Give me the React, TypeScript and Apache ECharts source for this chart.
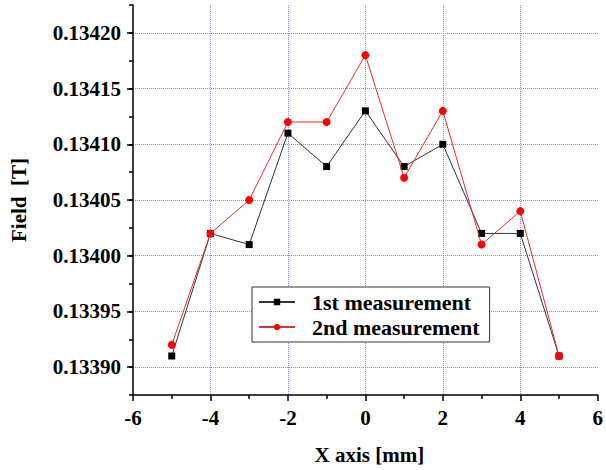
import React, { useEffect, useRef } from "react";
import * as echarts from "echarts";

const xPositions = [-5, -4, -3, -2, -1, 0, 1, 2, 3, 4, 5];
const firstMeasurement = [0.13391, 0.13402, 0.13401, 0.13411, 0.13408, 0.13413, 0.13408, 0.1341, 0.13402, 0.13402, 0.13391];
const secondMeasurement = [0.13392, 0.13402, 0.13405, 0.13412, 0.13412, 0.13418, 0.13407, 0.13413, 0.13401, 0.13404, 0.13391];
const seriesNames = ["1st measurement", "2nd measurement"];
const yMajorTicks = [0.1339, 0.13395, 0.134, 0.13405, 0.1341, 0.13415, 0.1342];

const FONT = "'Liberation Serif', 'Times New Roman', serif";
const GRID_COLOR = "#8a8ad6";
const Y_STEP = 0.000025;
const Y_MIN = 0.133875;
const Y_MAX = 0.134225;

export default function App() {
  const ref = useRef<HTMLDivElement>(null);
  useEffect(() => {
    const chart = echarts.init(ref.current!, null, { renderer: "svg" });
    chart.setOption({
      animation: false,
      backgroundColor: "#fff",
      grid: { left: 126, right: 6, top: 5, bottom: 74, containLabel: false },
      legend: {
        orient: "vertical",
        left: 252,
        top: 287,
        padding: [4, 10, 4, 6],
        itemGap: 3,
        itemWidth: 36,
        itemHeight: 8,
        borderColor: "#333",
        borderWidth: 1,
        backgroundColor: "#fff",
        textStyle: { fontFamily: FONT, fontWeight: "bold", fontSize: 22, color: "#000", padding: [0, 0, 0, 12] },
        data: seriesNames,
      },
      xAxis: {
        type: "value",
        min: -6,
        max: 6,
        interval: 2,
        name: "X axis [mm]",
        nameLocation: "middle",
        nameGap: 49,
        nameTextStyle: { fontFamily: FONT, fontWeight: "bold", fontSize: 21, color: "#000", padding: [0, 0, 0, 8] },
        axisLine: { show: true, onZero: false, lineStyle: { color: "#000", width: 1.5 } },
        axisTick: { show: true, inside: false, length: 6, lineStyle: { color: "#000", width: 1.5 } },
        minorTick: { show: true, splitNumber: 2, length: 4, lineStyle: { color: "#000", width: 1.5 } },
        axisLabel: { fontFamily: FONT, fontWeight: "bold", fontSize: 21, color: "#000", margin: 12 },
        splitLine: { show: true, showMinLine: false, showMaxLine: false, lineStyle: { color: GRID_COLOR, type: "dotted", width: 1 } },
      },
      yAxis: [
        {
          type: "value",
          min: Y_MIN,
          max: Y_MAX,
          interval: Y_STEP,
          name: "Field  [T]",
          nameLocation: "middle",
          nameGap: 104,
          nameTextStyle: { fontFamily: FONT, fontWeight: "bold", fontSize: 21, color: "#000" },
          axisLine: { show: true, onZero: false, lineStyle: { color: "#000", width: 1.5 } },
          axisTick: { show: true, inside: false, length: 4, lineStyle: { color: "#000", width: 1.5 } },
          axisLabel: {
            fontFamily: FONT,
            fontWeight: "bold",
            fontSize: 21,
            color: "#000",
            margin: 12,
            formatter: (v: number) => (Math.round(v / Y_STEP) % 2 === 0 ? v.toFixed(5) : ""),
          },
          splitLine: {
            show: true,
            showMinLine: false,
            showMaxLine: false,
            lineStyle: { color: [GRID_COLOR, "rgba(0,0,0,0)"], type: "dotted", width: 1 },
          },
        },
        {
          type: "value",
          position: "left",
          min: Y_MIN,
          max: Y_MAX,
          interval: Y_STEP,
          axisLine: { show: false, onZero: false },
          axisTick: { show: true, inside: false, length: 6, customValues: yMajorTicks, lineStyle: { color: "#000", width: 1.5 } },
          axisLabel: { show: false },
          splitLine: { show: false },
        },
      ],
      series: [
        {
          name: seriesNames[0],
          type: "line",
          data: xPositions.map((x, i) => [x, firstMeasurement[i]]),
          symbol: "rect",
          symbolSize: 7,
          itemStyle: { color: "#000" },
          lineStyle: { color: "#333", width: 1 },
          z: 2,
        },
        {
          name: seriesNames[1],
          type: "line",
          data: xPositions.map((x, i) => [x, secondMeasurement[i]]),
          symbol: "circle",
          symbolSize: 8,
          itemStyle: { color: "#ff0000" },
          lineStyle: { color: "#e03030", width: 1 },
          z: 3,
        },
      ],
    });
    return () => chart.dispose();
  }, []);
  return <div ref={ref} style={{ width: 606, height: 470, position: "absolute", left: 0, top: 0 }} />;
}
